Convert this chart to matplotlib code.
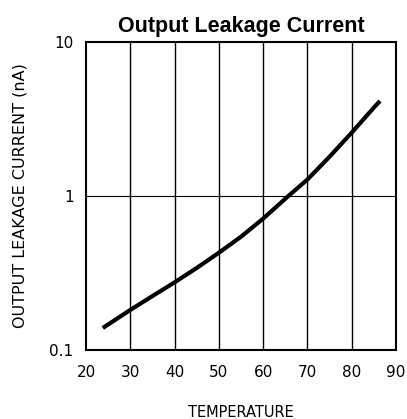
import matplotlib
matplotlib.use("Agg")
import matplotlib.pyplot as plt

# curve
temperature = [23.8, 30, 35, 40, 45, 50, 55, 60, 65.7, 70, 75, 80, 85, 86.4]
leakage_na = [0.139, 0.182, 0.224, 0.275, 0.341, 0.428, 0.544, 0.713, 1.0,
              1.28, 1.80, 2.58, 3.75, 4.14]

x_ticks = [20, 30, 40, 50, 60, 70, 80, 90]
y_ticks = [0.1, 1, 10]
y_tick_labels = ["0.1", "1", "10"]

fig = plt.figure(figsize=(4.07, 4.19), dpi=100)
ax = fig.add_axes([86 / 407, 1 - 350 / 419, 310 / 407, 308 / 419])

ax.plot(temperature, leakage_na, color="black", linewidth=3,
        solid_capstyle="butt", solid_joinstyle="round")

ax.set_yscale("log")
ax.set_xlim(20, 90)
ax.set_ylim(0.1, 10)
ax.set_xticks(x_ticks)
ax.set_yticks(y_ticks)
ax.set_yticklabels(y_tick_labels)
ax.minorticks_off()

# grid: verticals at every 10, one horizontal at 1
for xv in x_ticks[1:-1]:
    ax.axvline(xv, color="black", linewidth=1)
ax.axhline(1, color="black", linewidth=0.8)

for s in ax.spines.values():
    s.set_linewidth(1.5)

ax.tick_params(axis="x", length=0, pad=11, labelsize=11)
ax.tick_params(axis="y", length=0, pad=9, labelsize=11)
for lab in ax.get_xticklabels() + ax.get_yticklabels():
    lab.set_fontfamily("DejaVu Sans")

ax.set_title("Output Leakage Current", fontfamily="Liberation Sans",
             fontweight="bold", fontsize=15.5, pad=7)
ax.set_xlabel("TEMPERATURE", fontfamily="DejaVu Sans", fontsize=10.5, labelpad=18)
ax.set_ylabel("OUTPUT LEAKAGE CURRENT (nA)", fontfamily="DejaVu Sans",
              fontsize=11.5, labelpad=16)

fig.savefig("out.png", dpi=100)
